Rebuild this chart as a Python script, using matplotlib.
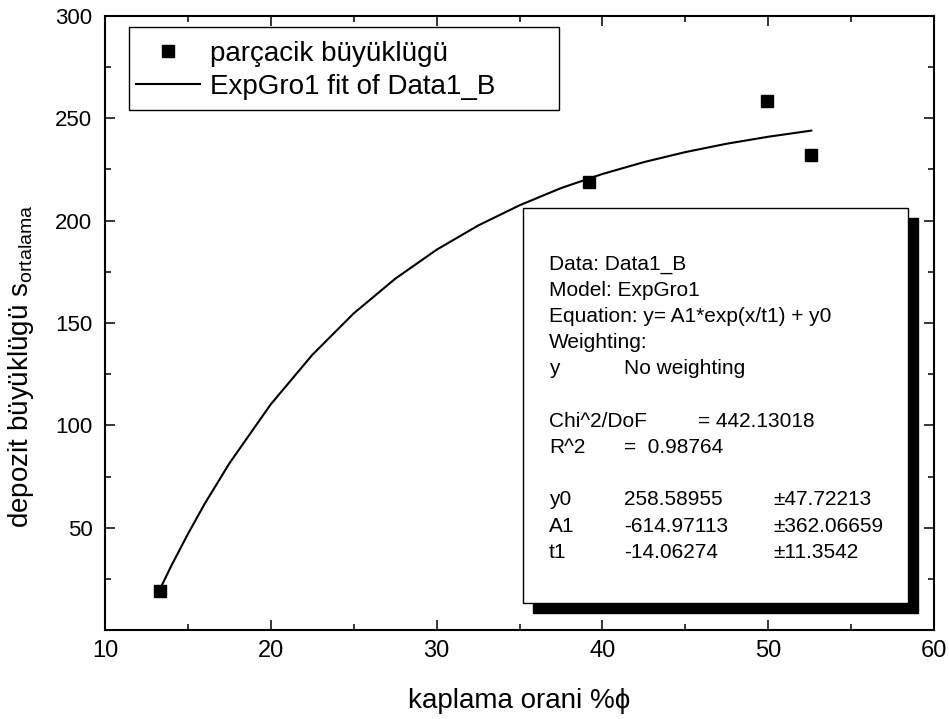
import matplotlib
matplotlib.use('Agg')
import matplotlib.pyplot as plt
from matplotlib.patches import Rectangle
from matplotlib.ticker import MultipleLocator

plt.rcParams['font.family'] = ['Liberation Sans', 'DejaVu Sans']
plt.rcParams['mathtext.fontset'] = 'custom'
plt.rcParams['mathtext.rm'] = 'Liberation Sans'
plt.rcParams['mathtext.it'] = 'Liberation Sans'

# measured points (kaplama orani vs depozit büyüklügü)
x_data = [13.3, 39.2, 49.9, 52.6]
y_data = [19.2, 219.0, 258.4, 231.9]

# fitted curve
x_fit = [13.3, 14.0, 15.0, 16.0, 17.5, 20.0, 22.5, 25.0, 27.5, 30.0, 32.5,
         35.0, 37.5, 40.0, 42.5, 45.0, 47.5, 50.0, 52.6]
y_fit = [19.7, 31.4, 46.9, 61.5, 81.4, 110.3, 134.4, 154.7, 171.6, 185.8, 197.6,
         207.5, 215.9, 222.8, 228.6, 233.5, 237.6, 241.0, 244.0]

legend_labels = ['parçacik büyüklügü', 'ExpGro1 fit of Data1_B']

box_lines = [
    ('Data: Data1_B', '', ''),
    ('Model: ExpGro1', '', ''),
    ('Equation: y= A1*exp(x/t1) + y0', '', ''),
    ('Weighting:', '', ''),
    ('y', 'No weighting', ''),
    ('', '', ''),
    ('Chi^2/DoF', '', '= 442.13018'),
    ('R^2', '=  0.98764', ''),
    ('', '', ''),
    ('y0', '258.58955', '±47.72213'),
    ('A1', '-614.97113', '±362.06659'),
    ('t1', '-14.06274', '±11.3542'),
]

W, H = 949, 719
fig = plt.figure(figsize=(W / 100, H / 100), dpi=100)
ax = fig.add_axes([105 / W, 1 - 630 / H, (934 - 105) / W, (630 - 16) / H])

ax.plot(x_data, y_data, 's', color='black', markersize=8, label=legend_labels[0], zorder=3)
ax.plot(x_fit, y_fit, '-', color='black', linewidth=1.5, label=legend_labels[1], zorder=2)

ax.set_xlim(10, 60)
ax.set_ylim(0, 300)
ax.set_xticks([10, 20, 30, 40, 50, 60])
ax.set_yticks([50, 100, 150, 200, 250, 300])
ax.xaxis.set_minor_locator(MultipleLocator(5))
ax.yaxis.set_minor_locator(MultipleLocator(25))
ax.tick_params(which='both', direction='in', top=True, right=True, width=1.1)
ax.tick_params(which='major', length=7.5)
ax.tick_params(which='minor', length=4)
ax.tick_params(axis='x', labelsize=17, pad=7)
ax.tick_params(axis='y', labelsize=16, pad=9)
for s in ax.spines.values():
    s.set_linewidth(1.5)

ax.set_xlabel('kaplama orani %ϕ', fontsize=20)
ax.xaxis.set_label_coords(0.5, -0.095)
ax.set_ylabel(r'depozit büyüklügü s$_{\mathrm{ortalama}}$', fontsize=20)
ax.yaxis.set_label_coords(-0.083, 0.43)

# legend with its own frame
leg = fig.legend(loc='upper left', bbox_to_anchor=(136 / W, 1 - 41 / H), frameon=False,
                 fontsize=20, handlelength=2.3, handletextpad=0.35, labelspacing=0.25,
                 borderpad=0, borderaxespad=0)
fig.patches.append(Rectangle((129 / W, 1 - 110 / H), (559 - 129) / W, (110 - 27) / H,
                             transform=fig.transFigure, facecolor='none',
                             edgecolor='black', linewidth=1, zorder=5))

# fit results box with shadow
fig.patches.append(Rectangle((533 / W, 1 - 613 / H), (918 - 533) / W, (613 - 218) / H,
                             transform=fig.transFigure, facecolor='black',
                             edgecolor='black', zorder=4))
fig.patches.append(Rectangle((523 / W, 1 - 603 / H), (908 - 523) / W, (603 - 208) / H,
                             transform=fig.transFigure, facecolor='white',
                             edgecolor='black', linewidth=1, zorder=4))
cols = [549, 624, 698]
for i, row in enumerate(box_lines):
    yy = 1 - (264 + i * 26.2) / H
    for j, t in enumerate(row):
        if not t:
            continue
        cx = cols[j]
        if j == 2 and i > 6:
            cx = 773
        fig.text(cx / W, yy, t, fontsize=15, va='center', ha='left', zorder=6)

fig.savefig('out.png', dpi=100)
